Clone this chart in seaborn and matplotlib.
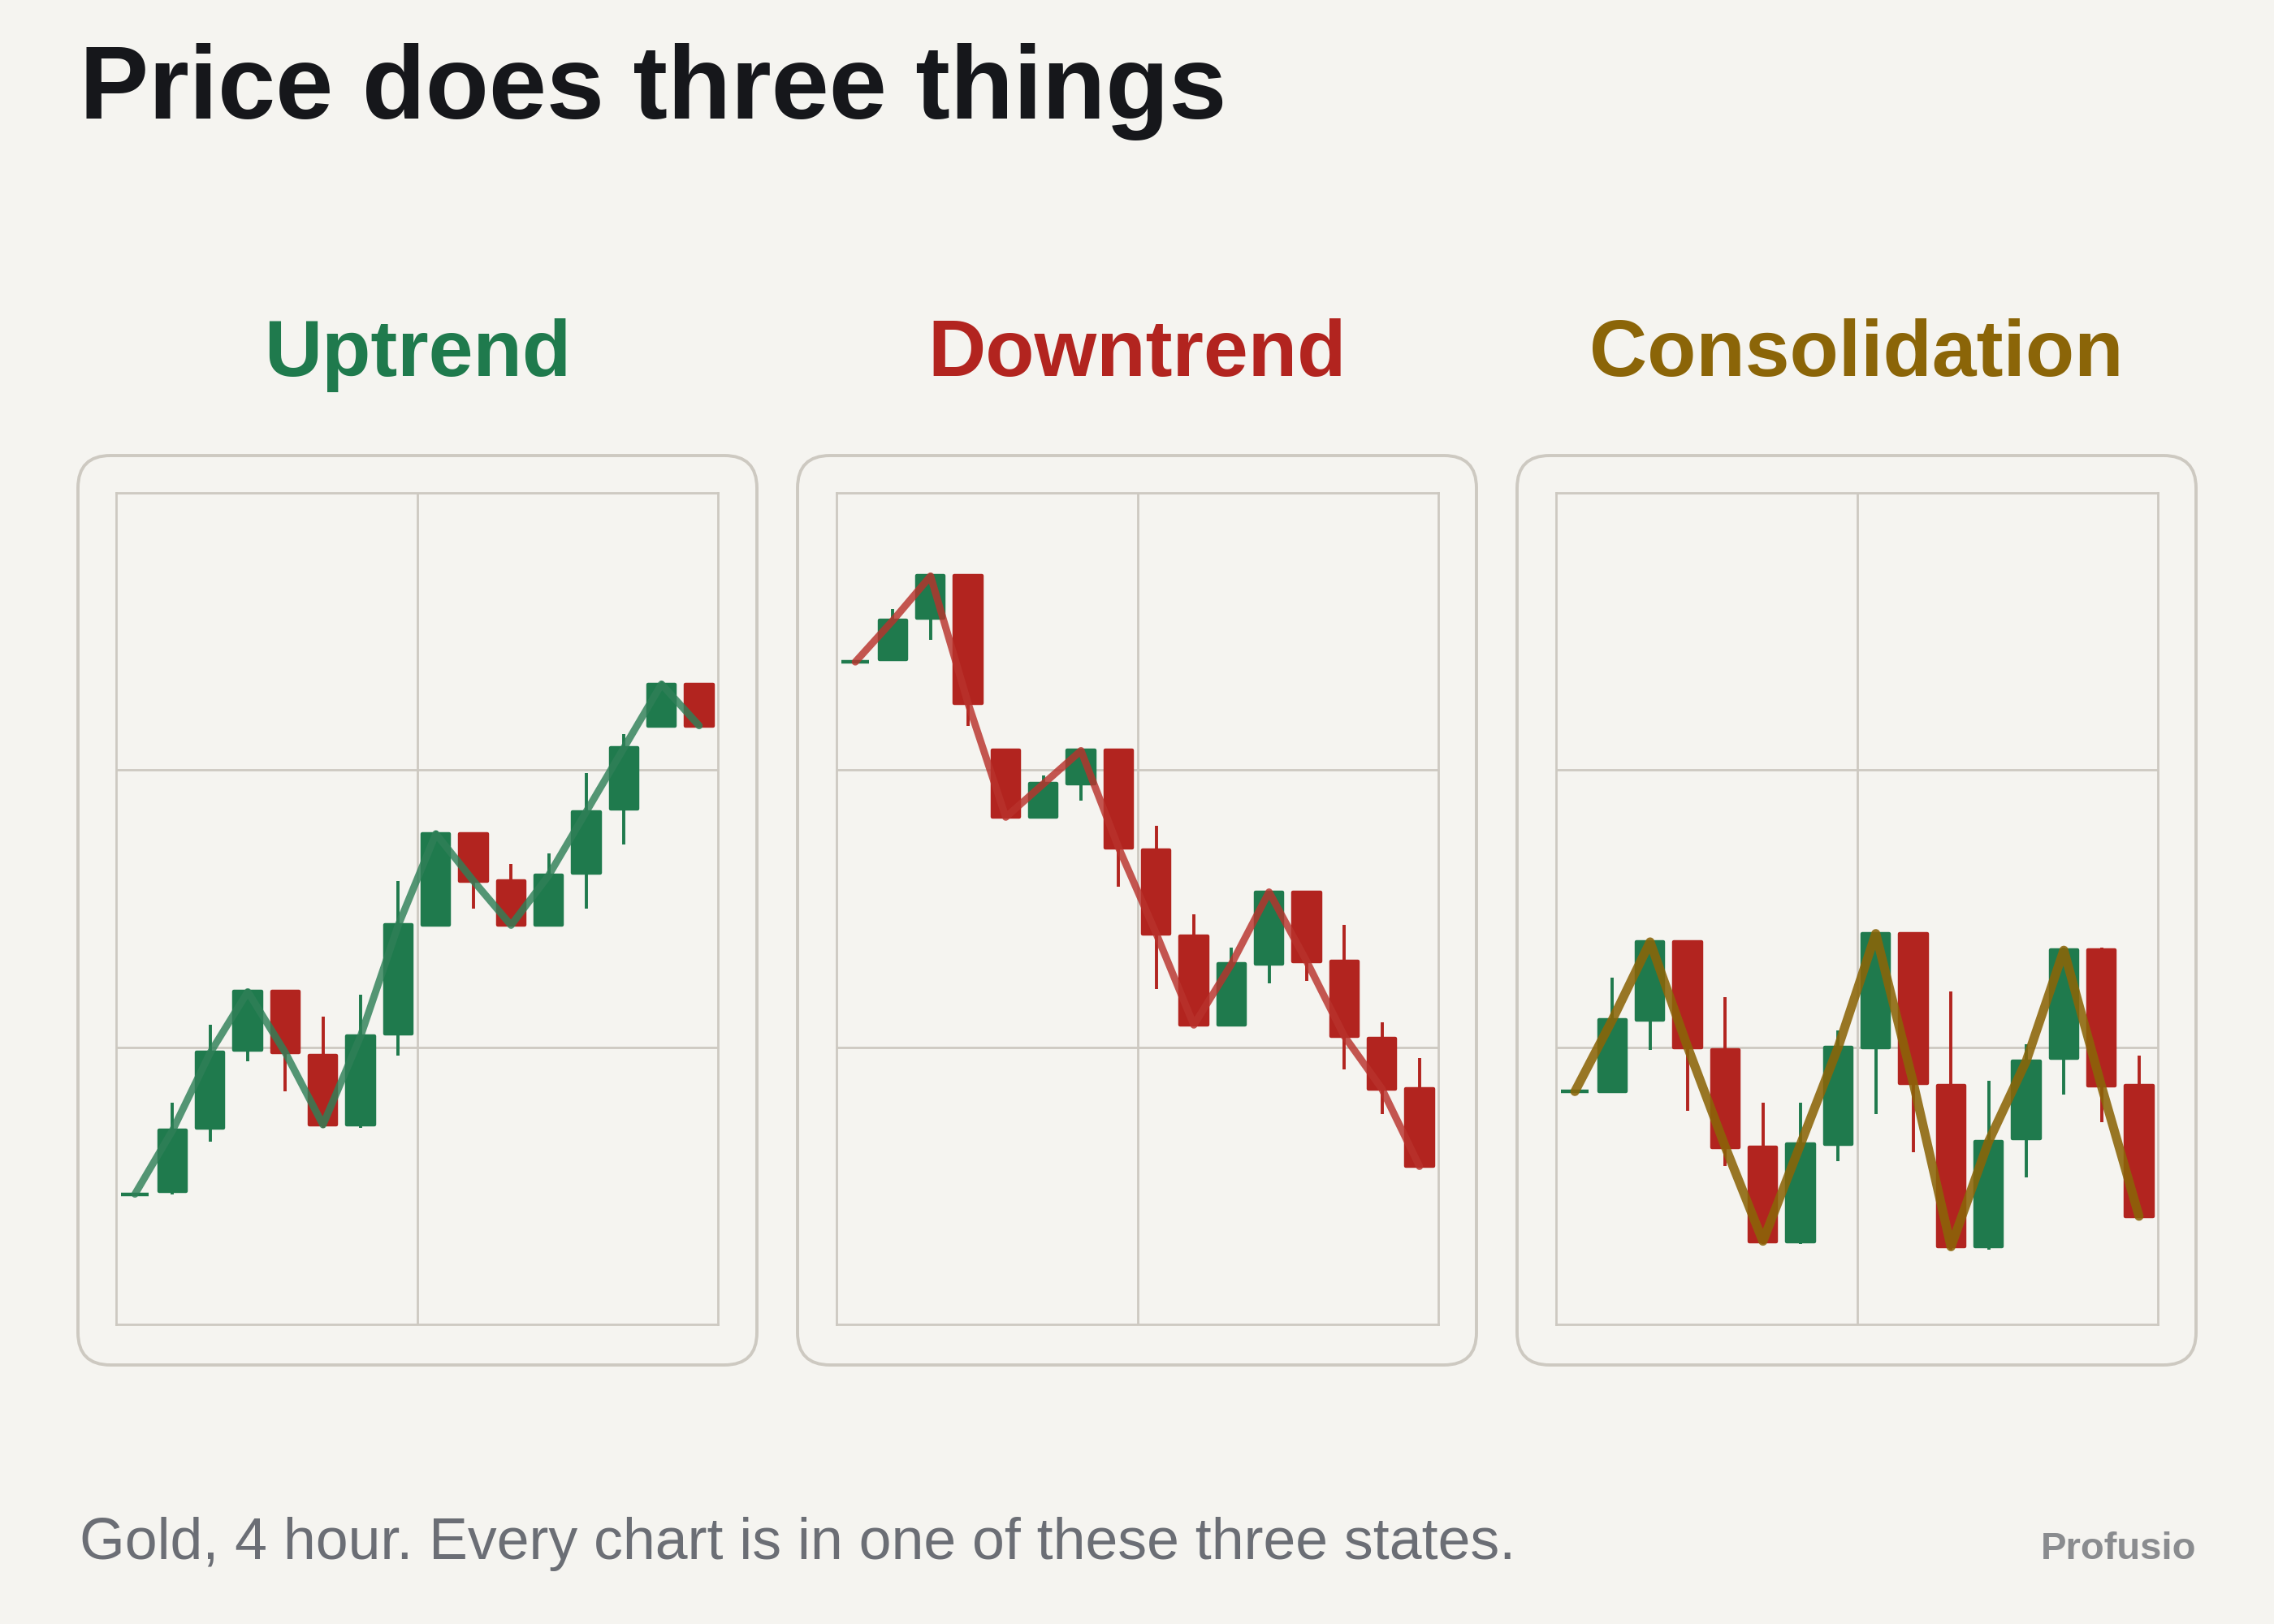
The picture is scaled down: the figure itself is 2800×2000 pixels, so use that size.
import numpy as np
import pandas as pd
import matplotlib
matplotlib.use("Agg")
import matplotlib.pyplot as plt
from matplotlib.patches import FancyBboxPatch
import seaborn as sns

BG = "#f5f4f0"
GREEN = "#1f7a4d"
RED = "#b2241f"
OLIVE = "#8b6508"
EDGE = "#cdc9c1"

# candle values (arbitrary price units, 0..3)
up_open = [0.47, 0.48, 0.71, 0.99, 1.20, 0.97, 0.72, 1.05, 1.44, 1.77, 1.60, 1.44, 1.63, 1.86, 2.16, 2.31]
up_high = [0.47, 0.80, 1.08, 1.21, 1.20, 1.11, 1.19, 1.60, 1.78, 1.77, 1.66, 1.70, 1.99, 2.13, 2.32, 2.31]
up_low = [0.47, 0.47, 0.66, 0.95, 0.84, 0.71, 0.71, 0.97, 1.44, 1.50, 1.44, 1.44, 1.50, 1.73, 2.16, 2.16]
up_close = [0.47, 0.70, 0.98, 1.20, 0.98, 0.72, 1.04, 1.44, 1.77, 1.60, 1.44, 1.62, 1.85, 2.08, 2.31, 2.16]

down_open = [2.39, 2.40, 2.55, 2.70, 2.07, 1.83, 1.95, 2.07, 1.71, 1.40, 1.08, 1.30, 1.56, 1.31, 1.03, 0.85]
down_high = [2.39, 2.58, 2.71, 2.70, 2.07, 1.98, 2.07, 2.07, 1.80, 1.48, 1.36, 1.56, 1.56, 1.44, 1.09, 0.96]
down_low = [2.39, 2.40, 2.47, 2.16, 1.83, 1.83, 1.89, 1.58, 1.21, 1.08, 1.08, 1.23, 1.24, 0.92, 0.76, 0.57]
down_close = [2.39, 2.54, 2.70, 2.24, 1.83, 1.95, 2.07, 1.72, 1.41, 1.08, 1.30, 1.56, 1.31, 1.04, 0.85, 0.57]

cons_open = [0.84, 0.84, 1.10, 1.38, 0.99, 0.64, 0.30, 0.65, 1.00, 1.41, 0.86, 0.28, 0.67, 0.96, 1.35, 0.86]
cons_high = [0.84, 1.25, 1.38, 1.38, 1.18, 0.80, 0.80, 1.06, 1.41, 1.41, 1.20, 0.88, 1.01, 1.36, 1.36, 0.97]
cons_low = [0.84, 0.84, 0.99, 0.77, 0.57, 0.29, 0.29, 0.59, 0.76, 0.62, 0.27, 0.27, 0.53, 0.83, 0.73, 0.39]
cons_close = [0.84, 1.10, 1.38, 1.00, 0.64, 0.30, 0.65, 1.00, 1.41, 0.87, 0.28, 0.66, 0.95, 1.35, 0.86, 0.39]

panel_names = ["Uptrend", "Downtrend", "Consolidation"]
panel_colors = [GREEN, RED, OLIVE]
line_colors = ["#2f8058", "#b9322c", "#8b6508"]
line_alphas = [0.82, 0.82, 0.88]
line_widths = [3.2, 3.2, 4.0]


def draw_candles(ax, o, h, l, c, line_color, line_alpha, line_width):
    df = pd.DataFrame({"open": o, "high": h, "low": l, "close": c})
    df["t"] = np.arange(len(df))
    df["up"] = df["close"] >= df["open"]
    colors = np.where(df["up"], GREEN, RED)
    bottoms = np.minimum(df["open"], df["close"])
    heights = np.abs(df["close"] - df["open"])

    ax.vlines(df["t"], df["low"], df["high"], colors=colors, linewidth=1.4, zorder=2)
    ax.bar(df["t"], heights, bottom=bottoms, width=0.72, color=colors,
           edgecolor=colors, linewidth=1.6, joinstyle="round", zorder=3)

    sns.lineplot(data=df, x="t", y="close", ax=ax, color=line_color, alpha=line_alpha,
                 linewidth=line_width, zorder=4, solid_capstyle="round",
                 solid_joinstyle="round")


sns.set_theme(style="white")
plt.rcParams["font.family"] = ["Liberation Sans", "DejaVu Sans"]

fig = plt.figure(figsize=(14, 10), dpi=200, facecolor=BG)

# background layer in pixel units for the rounded frames
bg = fig.add_axes([0, 0, 1, 1], zorder=-1)
bg.set_xlim(0, 2800)
bg.set_ylim(2000, 0)
bg.axis("off")
bg.set_facecolor(BG)

box_lefts = [96, 982, 1868]
for bx in box_lefts:
    bg.add_patch(FancyBboxPatch((bx, 561), 836, 1120,
                                boxstyle="round,pad=0,rounding_size=40",
                                facecolor=BG, edgecolor=EDGE, linewidth=1.4))

datasets = [
    (up_open, up_high, up_low, up_close),
    (down_open, down_high, down_low, down_close),
    (cons_open, cons_high, cons_low, cons_close),
]

ax_lefts = [143, 1030, 1916]
for i, (o, h, l, c) in enumerate(datasets):
    ax = fig.add_axes([ax_lefts[i] / 2800, 1 - 1631 / 2000, 741 / 2800, 1024 / 2000])
    ax.set_facecolor(BG)
    draw_candles(ax, o, h, l, c, line_colors[i], line_alphas[i], line_widths[i])
    ax.set_xlim(-0.5, 15.5)
    ax.set_ylim(0, 3)
    ax.set_xticks([7.5])
    ax.set_yticks([1, 2])
    ax.tick_params(length=0, labelbottom=False, labelleft=False)
    ax.grid(True, color=EDGE, linewidth=1.0)
    ax.set_xlabel("")
    ax.set_ylabel("")
    for sp in ax.spines.values():
        sp.set_visible(True)
        sp.set_color(EDGE)
        sp.set_linewidth(1.0)

    fig.text((box_lefts[i] + 418) / 2800, 1 - 463 / 2000, panel_names[i],
             ha="center", va="baseline", fontsize=35.5, fontweight="bold",
             color=panel_colors[i])

fig.text(98 / 2800, 1 - 146 / 2000, "Price does three things", ha="left",
         va="baseline", fontsize=46, fontweight="bold", color="#16171b")
fig.text(98 / 2800, 1 - 1920 / 2000, "Gold, 4 hour. Every chart is in one of these three states.",
         ha="left", va="baseline", fontsize=25.8, color="#6b6e75")
fig.text(2704 / 2800, 1 - 1920 / 2000, "Profusio", ha="right", va="baseline",
         fontsize=17, fontweight="bold", color="#8a8c8f")

fig.savefig("out.png", dpi=200, facecolor=BG)
